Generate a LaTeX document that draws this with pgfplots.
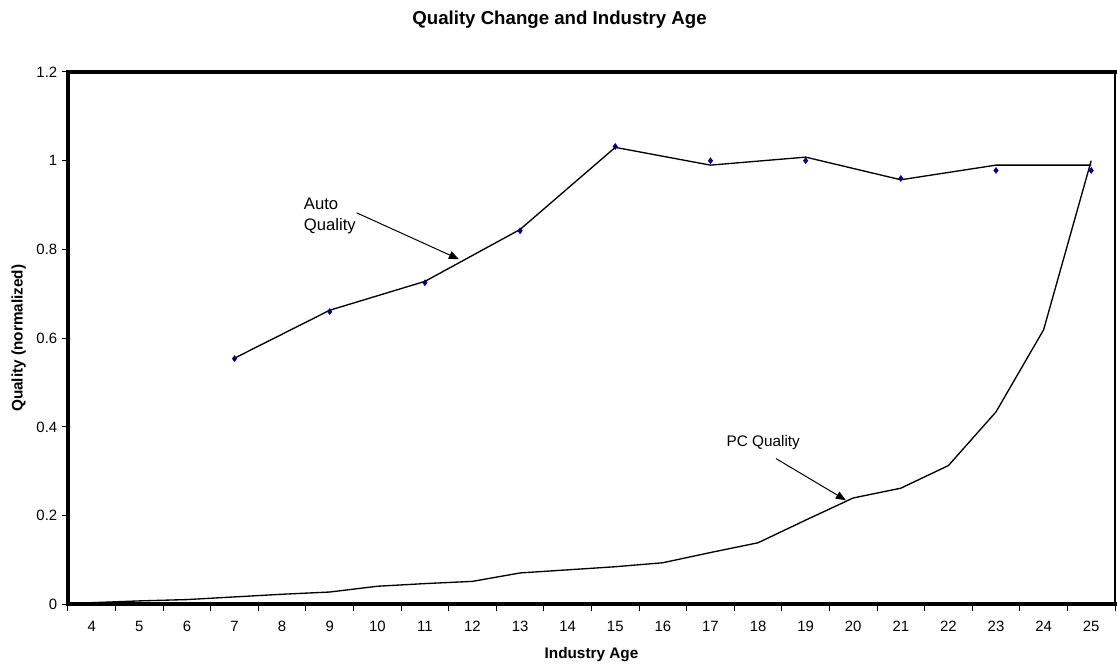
\documentclass[border=0pt]{standalone}
\usepackage{fontspec}
\setmainfont{Liberation Sans}
\usepackage{pgfplots}
\pgfplotsset{compat=1.18}
\usetikzlibrary{arrows.meta}

\definecolor{navymark}{HTML}{000080}

\begin{document}
\begin{tikzpicture}
\begin{axis}[
    name=ax,
    scale only axis,
    width=786pt,
    height=399.75pt,
    xmin=3.5, xmax=25.5,
    ymin=0, ymax=1.2,
    axis x line=bottom,
    axis y line=left,
    axis line style={-, line width=3pt, line cap=rect},
    tick align=outside,
    xtick={4,5,6,7,8,9,10,11,12,13,14,15,16,17,18,19,20,21,22,23,24,25},
    xticklabels={4,5,6,7,8,9,10,11,12,13,14,15,16,17,18,19,20,21,22,23,24,25},
    major x tick style={draw=none},
    minor xtick={3.5,4.5,5.5,6.5,7.5,8.5,9.5,10.5,11.5,12.5,13.5,14.5,15.5,16.5,17.5,18.5,19.5,20.5,21.5,22.5,23.5,24.5,25.5},
    minor x tick style={line width=0.75pt, black},
    minor tick length=5.25pt,
    ytick={0,0.2,0.4,0.6,0.8,1,1.2},
    yticklabels={0,0.2,0.4,0.6,0.8,1,1.2},
    major tick length=4.5pt,
    y tick style={line width=0.75pt, black},
    tick label style={font=\fontsize{11.2}{13}\selectfont},
    xticklabel style={yshift=-4.5pt},
    title={Quality Change and Industry Age},
    title style={at={(axis description cs:0.4695,1.0741)}, anchor=base,
        font=\bfseries\fontsize{14}{17}\selectfont},
    xlabel={Industry Age},
    xlabel style={at={(axis description cs:0.5,-0.1013)}, anchor=base,
        font=\bfseries\fontsize{11.5}{14}\selectfont},
    ylabel={Quality (normalized)},
    ylabel style={at={(axis description cs:-0.0471,0.5)}, anchor=center,
        font=\bfseries\fontsize{11.5}{14}\selectfont},
    clip=false,
]
% top and right border
\draw[line width=3pt, line cap=rect] (rel axis cs:0,1) -- (rel axis cs:1,1);
\draw[line width=1.1pt] (rel axis cs:1,0) -- (rel axis cs:1,1);

% PC quality
\addplot[black, line width=1pt] coordinates {
    (4,0.004) (5,0.008) (6,0.011) (7,0.017) (8,0.023) (9,0.028) (10,0.041)
    (11,0.047) (12,0.052) (13,0.071) (14,0.078) (15,0.085) (16,0.094)
    (17,0.117) (18,0.139) (19,0.190) (20,0.240) (21,0.262) (22,0.313)
    (23,0.434) (24,0.619) (25,1.000)};

% Auto quality line
\addplot[black, line width=1pt] coordinates {
    (7,0.555) (9,0.663) (11,0.728) (13,0.845) (15,1.030) (17,0.990)
    (19,1.008) (21,0.957) (23,0.990) (25,0.990)};

% Auto quality points
\addplot[only marks, mark=diamond*, mark size=2.2pt, color=navymark] coordinates {
    (7,0.554) (9,0.660) (11,0.725) (13,0.842) (15,1.032) (17,1.000)
    (19,1.000) (21,0.960) (23,0.978) (25,0.978)};

% annotations
\node[anchor=base west, inner sep=0pt, font=\fontsize{12.5}{15}\selectfont]
    at (axis cs:8.454,0.889) {Auto};
\node[anchor=base west, inner sep=0pt, font=\fontsize{12.5}{15}\selectfont]
    at (axis cs:8.454,0.842) {Quality};
\draw[-{Triangle[length=7.5pt,width=6pt]}, line width=0.75pt]
    (axis cs:9.567,0.8825) -- (axis cs:11.715,0.778);
\node[anchor=base west, inner sep=0pt, font=\fontsize{11.5}{14}\selectfont]
    at (axis cs:17.334,0.356) {PC Quality};
\draw[-{Triangle[length=7.5pt,width=6pt]}, line width=0.75pt]
    (axis cs:18.377,0.3287) -- (axis cs:19.846,0.2349);
\end{axis}
\path ([shift={(-51pt,-49.5pt)}]ax.south west) rectangle ([shift={(0.75pt,54pt)}]ax.north east);
\end{tikzpicture}
\end{document}
